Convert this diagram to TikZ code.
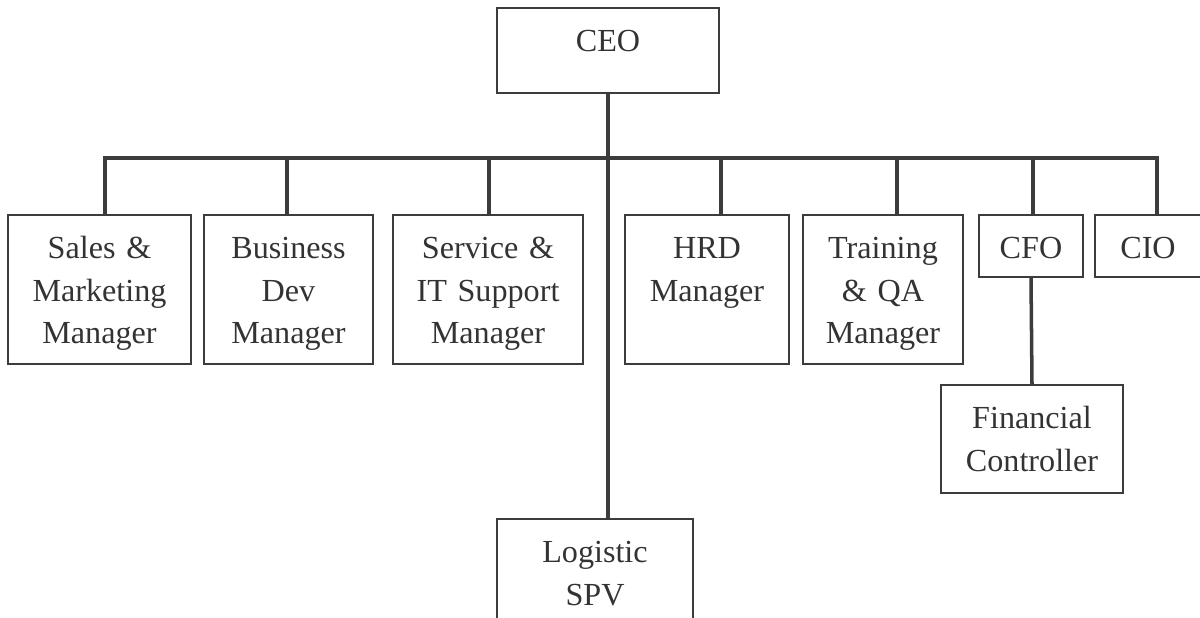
\documentclass[tikz,border=0pt]{standalone}
\usepackage{fontspec}
\setmainfont{Liberation Serif}
\usepackage{tikz}
\definecolor{ink}{HTML}{3C3C3C}
\definecolor{txt}{HTML}{333333}

\begin{document}
\begin{tikzpicture}[x=0.02cm, y=-0.02cm,
        font=\fontsize{18.3pt}{24.2pt}\selectfont,
        unit/.style={draw=ink, line width=1.1pt, text=txt, align=center, anchor=north,
            inner sep=0pt, text height=0.88cm},
        link/.style={draw=ink, line width=2pt}]
        \clip (0,0) rectangle (1200,618);
        % top of the tree
        \node[unit, text width=4.44cm, text depth=0.82cm] (ceo) at (608,7) {CEO};
        % managers under the bar
        \node[unit, text width=3.66cm, text depth=2.1cm] (sales) at (99.5,214) {Sales \&\\ Marketing\\ Manager};
        \node[unit, text width=3.38cm, text depth=2.1cm] (bizdev) at (288.5,214) {Business\\ Dev\\ Manager};
        \node[unit, text width=3.8cm, text depth=2.1cm] (service) at (488,214) {Service \&\\ IT Support\\ Manager};
        \node[unit, text width=3.28cm, text depth=2.1cm] (hrd) at (707,214) {HRD\\ Manager};
        \node[unit, text width=3.2cm, text depth=2.1cm] (training) at (883,214) {Training\\ \& QA\\ Manager};
        \node[unit, text width=2.08cm, text depth=0.36cm] (cfo) at (1031,214) {CFO};
        \node[unit, text width=2.12cm, text depth=0.36cm] (cio) at (1148,214) {CIO};
        \node[unit, text width=3.64cm, text depth=1.28cm] (fincon) at (1032,384) {Financial\\ Controller};
        \node[unit, text width=3.92cm, text depth=2cm] (logistic) at (595,518) {Logistic\\ SPV};
        % connectors
        \coordinate (barL) at (105,158);
        \coordinate (barR) at (1157,158);
        \draw[link] (ceo.south) -- (ceo.south |- logistic.north);
        \draw[link] (sales.north -| barL) -- (barL) -- (barR) -- (cio.north -| barR);
        \draw[link] (287,158) -- (bizdev.north -| 287,0);
        \draw[link] (489,158) -- (service.north -| 489,0);
        \draw[link] (721,158) -- (hrd.north -| 721,0);
        \draw[link] (897,158) -- (training.north -| 897,0);
        \draw[link] (1033,158) -- (cfo.north -| 1033,0);
        \draw[link] (cfo.south) -- (fincon.north);
    \end{tikzpicture}
\end{document}
